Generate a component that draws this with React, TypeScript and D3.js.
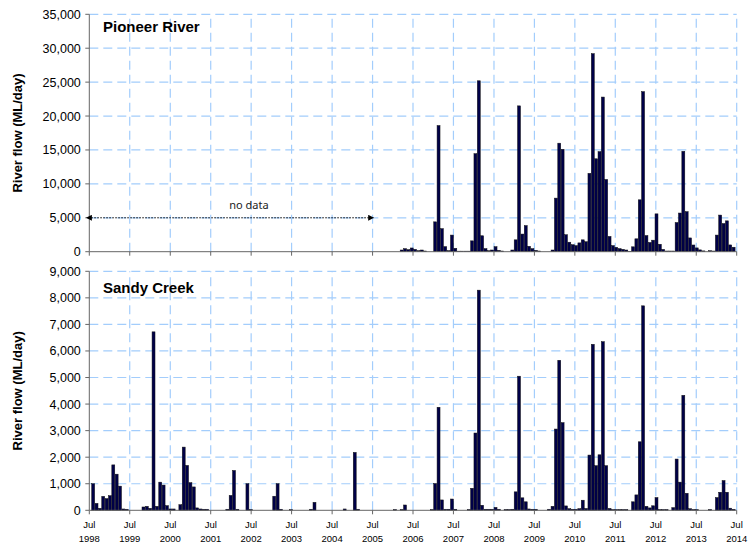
import { useEffect, useRef } from 'react';
import * as d3 from 'd3';

const WIDTH = 749;
const HEIGHT = 546;

// monthly flows, first bar = Jul 1998, last bar = Jun 2014
const firstMonth = new Date(1998, 6, 1);
const lastMonth = new Date(2014, 6, 1);
const tickYears = [1998, 1999, 2000, 2001, 2002, 2003, 2004, 2005, 2006, 2007, 2008, 2009, 2010, 2011, 2012, 2013, 2014];

const sandyFlow = [
  1000, 260, 75, 525, 440, 550, 1710, 1360, 910, 50, 40, 0,
  0, 0, 0, 125, 150, 75, 6720, 150, 1060, 950, 175, 50,
  50, 0, 210, 2380, 1690, 1040, 880, 90, 50, 40, 40, 0,
  0, 0, 0, 0, 40, 560, 1500, 40, 0, 0, 1000, 30,
  0, 0, 0, 0, 0, 0, 530, 1000, 40, 0, 0, 25,
  0, 0, 0, 0, 0, 40, 300, 0, 0, 0, 0, 0,
  0, 0, 0, 50, 0, 0, 2180, 40, 0, 0, 0, 0,
  0, 0, 0, 0, 0, 0, 30, 0, 30, 200, 0, 0,
  0, 0, 0, 0, 0, 30, 1010, 3880, 390, 40, 40, 425,
  40, 0, 0, 0, 30, 830, 2910, 8290, 190, 40, 40, 40,
  110, 40, 0, 30, 30, 40, 695, 5050, 470, 320, 50, 40,
  40, 0, 0, 0, 40, 150, 3060, 5650, 3300, 165, 60, 40,
  40, 60, 380, 70, 2080, 6250, 1680, 2090, 6350, 1680, 70, 30,
  30, 30, 30, 30, 0, 320, 580, 2580, 7700, 150, 90, 170,
  480, 30, 30, 30, 0, 100, 1930, 1060, 4330, 640, 60, 30,
  30, 0, 0, 0, 30, 0, 480, 680, 1120, 680, 80, 40,
];

// Pioneer River gauge only has records from Jul 2005
const pioneerStart = new Date(2005, 6, 1);
const pioneerFlow = [
  0, 0, 0, 0, 0, 0, 0, 0, 250, 450, 300, 550,
  350, 150, 250, 100, 0, 0, 4400, 18600, 3400, 750, 150, 2450,
  500, 80, 80, 80, 80, 1600, 14450, 25200, 2350, 450, 150, 250,
  735, 200, 100, 0, 0, 250, 1750, 21500, 2600, 3850, 800, 450,
  200, 100, 0, 0, 0, 250, 7900, 16000, 15100, 2500, 1400, 1030,
  900, 1300, 1750, 1470, 11550, 29200, 13700, 14750, 22800, 10650, 2250, 900,
  650, 450, 350, 250, 50, 720, 1900, 7650, 23600, 2380, 1360, 1700,
  5580, 1100, 340, 100, 100, 100, 4300, 5700, 14800, 5900, 2030, 990,
  560, 270, 120, 0, 150, 100, 2450, 5400, 4150, 4550, 1000, 660,
];

const pioneerTicks = [0, 5000, 10000, 15000, 20000, 25000, 30000, 35000];
const sandyTicks = [0, 1000, 2000, 3000, 4000, 5000, 6000, 7000, 8000, 9000];

const GRID = '#a3cdfc';
const AXIS = '#666666';
const BAR = '#000048';

export default function App() {
  const svgRef = useRef<SVGSVGElement>(null);

  useEffect(() => {
    if (!svgRef.current) return;
    const svg = d3.select(svgRef.current);
    svg.selectAll('*').remove();

    const left = 89.3;
    const right = 736.7;

    const xTime = d3.scaleTime().domain([firstMonth, lastMonth]).range([left, right]);
    const xBand = d3
      .scaleBand<number>()
      .domain(sandyFlow.map((_, i) => i))
      .range([91.5, 735.3])
      .paddingInner(0.12)
      .paddingOuter(0.06);

    const pioneerOffset = d3.timeMonth.count(firstMonth, pioneerStart);

    const panels = [
      {
        title: 'Pioneer River',
        values: pioneerFlow,
        offset: pioneerOffset,
        ticks: pioneerTicks,
        top: 14.3,
        bottom: 251.7,
        titleY: 32,
        showYears: false,
      },
      {
        title: 'Sandy Creek',
        values: sandyFlow,
        offset: 0,
        ticks: sandyTicks,
        top: 271.3,
        bottom: 510.3,
        titleY: 293.3,
        showYears: true,
      },
    ];

    const defs = svg.append('defs');
    ['start', 'end'].forEach((k) => {
      defs
        .append('marker')
        .attr('id', `arrow-${k}`)
        .attr('viewBox', '0 0 10 10')
        .attr('refX', k === 'end' ? 9 : 1)
        .attr('refY', 5)
        .attr('markerWidth', 6)
        .attr('markerHeight', 6)
        .attr('markerUnits', 'userSpaceOnUse')
        .attr('orient', 'auto-start-reverse')
        .append('path')
        .attr('d', 'M0,0 L10,5 L0,10 z')
        .attr('fill', '#000');
    });

    panels.forEach((p) => {
      const g = svg.append('g');
      const y = d3
        .scaleLinear()
        .domain([0, p.ticks[p.ticks.length - 1]])
        .range([p.bottom, p.top]);

      // ── Grid ──
      g.selectAll('line.hgrid')
        .data(p.ticks.slice(1))
        .enter()
        .append('line')
        .attr('x1', left)
        .attr('x2', right)
        .attr('y1', (d) => y(d))
        .attr('y2', (d) => y(d))
        .attr('stroke', GRID)
        .attr('stroke-width', 1.2)
        .attr('stroke-dasharray', '9,5');

      g.selectAll('line.vgrid')
        .data(tickYears.slice(1))
        .enter()
        .append('line')
        .attr('x1', (d) => xTime(new Date(d, 6, 1)))
        .attr('x2', (d) => xTime(new Date(d, 6, 1)))
        .attr('y1', p.bottom)
        .attr('y2', p.top)
        .attr('stroke', GRID)
        .attr('stroke-width', 1.2)
        .attr('stroke-dasharray', '9,5');

      // ── Bars ──
      g.selectAll('rect.bar')
        .data(p.values.map((v, i) => ({ v, i: i + p.offset })).filter((d) => d.v > 0))
        .enter()
        .append('rect')
        .attr('class', 'bar')
        .attr('x', (d) => xBand(d.i)!)
        .attr('y', (d) => y(d.v))
        .attr('width', xBand.bandwidth())
        .attr('height', (d) => p.bottom - y(d.v))
        .attr('fill', BAR)
        .attr('stroke', '#111')
        .attr('stroke-width', 0.5);

      // ── Axes ──
      g.append('line')
        .attr('x1', left)
        .attr('x2', left)
        .attr('y1', p.top)
        .attr('y2', p.bottom)
        .attr('stroke', AXIS)
        .attr('stroke-width', 1);
      g.append('line')
        .attr('x1', left)
        .attr('x2', right)
        .attr('y1', p.bottom)
        .attr('y2', p.bottom)
        .attr('stroke', AXIS)
        .attr('stroke-width', 1);

      g.selectAll('line.ytick')
        .data(p.ticks)
        .enter()
        .append('line')
        .attr('x1', left - 4)
        .attr('x2', left)
        .attr('y1', (d) => y(d))
        .attr('y2', (d) => y(d))
        .attr('stroke', AXIS);

      g.selectAll('text.ylab')
        .data(p.ticks)
        .enter()
        .append('text')
        .attr('x', 80.8)
        .attr('y', (d) => y(d))
        .attr('dy', '0.36em')
        .attr('text-anchor', 'end')
        .attr('font-family', 'Arial, "Liberation Sans", sans-serif')
        .attr('font-size', '12.5px')
        .attr('fill', '#000')
        .text((d) => d3.format(',')(d));

      g.selectAll('line.xtick')
        .data(tickYears)
        .enter()
        .append('line')
        .attr('x1', (d) => xTime(new Date(d, 6, 1)))
        .attr('x2', (d) => xTime(new Date(d, 6, 1)))
        .attr('y1', p.bottom)
        .attr('y2', p.bottom + 4)
        .attr('stroke', AXIS);

      if (p.showYears) {
        const lab = g
          .selectAll('text.xlab')
          .data(tickYears)
          .enter()
          .append('text')
          .attr('text-anchor', 'middle')
          .attr('font-family', 'Arial, "Liberation Sans", sans-serif')
          .attr('font-size', '9.5px')
          .attr('fill', '#000');
        lab
          .append('tspan')
          .attr('x', (d) => xTime(new Date(d, 6, 1)))
          .attr('y', 527.5)
          .text('Jul');
        lab
          .append('tspan')
          .attr('x', (d) => xTime(new Date(d, 6, 1)))
          .attr('y', 541.7)
          .text((d) => String(d));
      }

      // ── Titles ──
      g.append('text')
        .attr('x', 103)
        .attr('y', p.titleY)
        .attr('font-family', 'Arial, "Liberation Sans", sans-serif')
        .attr('font-weight', '700')
        .attr('font-size', '15px')
        .attr('fill', '#000')
        .text(p.title);

      g.append('text')
        .attr('transform', `translate(21.5,${(p.top + p.bottom) / 2}) rotate(-90)`)
        .attr('text-anchor', 'middle')
        .attr('font-family', 'Arial, "Liberation Sans", sans-serif')
        .attr('font-weight', '700')
        .attr('font-size', '13px')
        .attr('fill', '#000')
        .text('River flow (ML/day)');

      // ── No data note ──
      if (p.offset > 0) {
        const ay = y(5000);
        g.append('line')
          .attr('x1', xTime(firstMonth) + 2)
          .attr('x2', xTime(pioneerStart) + 1)
          .attr('y1', ay)
          .attr('y2', ay)
          .attr('stroke', '#000')
          .attr('stroke-width', 1)
          .attr('stroke-dasharray', '1.5,1.5')
          .attr('marker-start', 'url(#arrow-start)')
          .attr('marker-end', 'url(#arrow-end)');
        g.append('text')
          .attr('x', (xTime(firstMonth) + xTime(pioneerStart)) / 2 + 18)
          .attr('y', ay - 9)
          .attr('text-anchor', 'middle')
          .attr('font-family', '"Noto Sans", "Open Sans", sans-serif')
          .attr('font-size', '11px')
          .attr('fill', '#222')
          .text('no data');
      }
    });
  }, []);

  return (
    <svg
      ref={svgRef}
      width={WIDTH}
      height={HEIGHT}
      style={{ position: 'absolute', left: 0, top: 0, background: '#fff' }}
    />
  );
}
